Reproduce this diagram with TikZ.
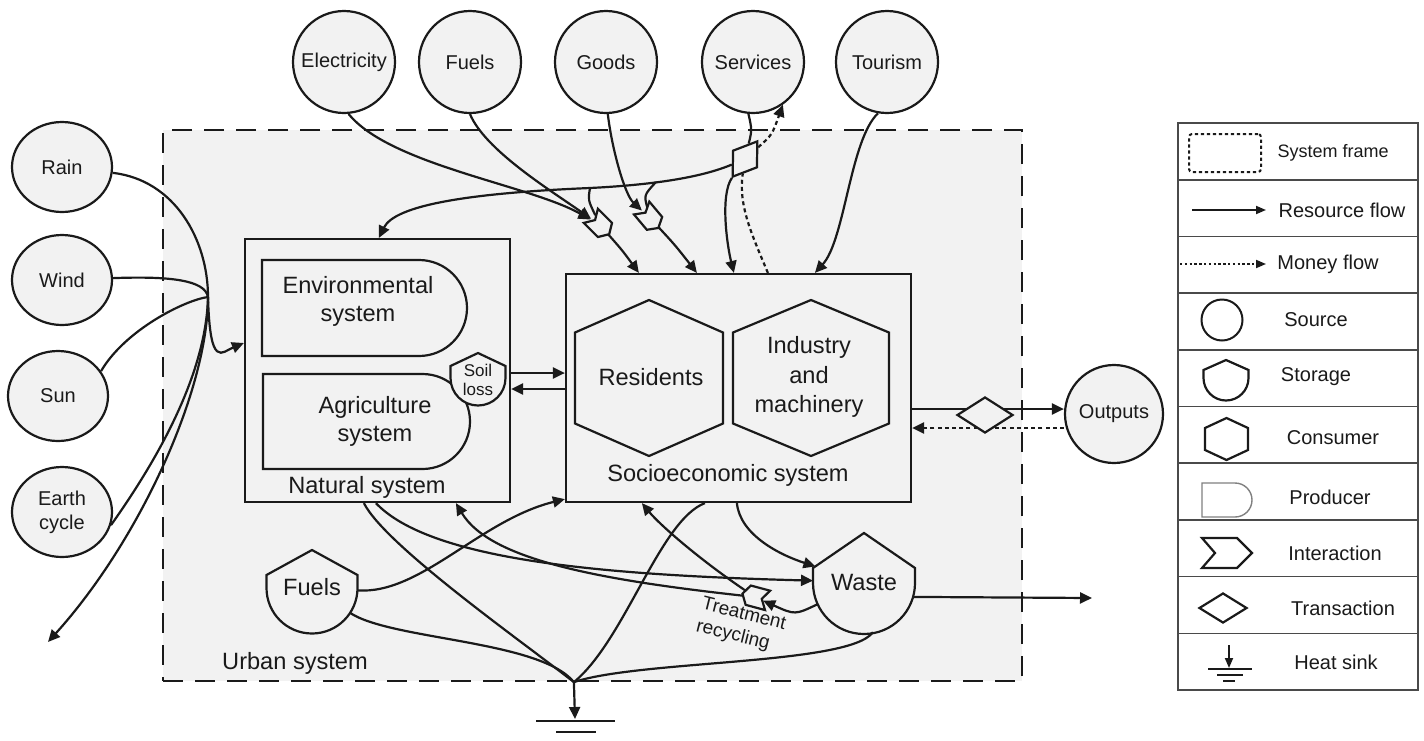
\documentclass[tikz,border=0pt]{standalone}
\usepackage{fontspec}
\setmainfont{Liberation Sans}
\usetikzlibrary{arrows.meta,shapes.geometric,fit}
\definecolor{bg}{HTML}{F2F2F2}
\definecolor{ink}{HTML}{1A1A1A}
\definecolor{rule}{HTML}{4A4A4A}
\pgfdeclarelayer{fg}
\pgfsetlayers{main,fg}
\newcommand\lblfont{\fontsize{11.8}{14}\selectfont}
\newcommand\srcfont{\fontsize{10}{12}\selectfont}
\newcommand\storageshape[5]{\draw[shapeline] (#1,#2) -- (#1+#5,#3) -- (#1+#5,#4) arc[start angle=0,end angle=-180,radius=#5*0.5pt] -- (#1-#5,#3) -- cycle;}
\newcommand\hexshape[5]{\draw[shapeline] (#1,#2-#4) -- (#1+#3,#2-#5) -- (#1+#3,#2+#5) -- (#1,#2+#4) -- (#1-#3,#2+#5) -- (#1-#3,#2-#5) -- cycle;}
\newcommand\prodshape[5]{\draw[shapeline] (#1,#2) -- (#3,#2) arc[start angle=90,end angle=-90,radius=#5*0.5pt] -- (#1,#4) -- cycle;}
\tikzset{
  shapeline/.style={line width=1.1pt,draw=ink,fill=bg,line join=miter},
  plain/.style={line width=1.1pt,draw=ink},
  flow/.style={plain,-{Triangle[length=6pt,width=5.5pt]}},
  moneyline/.style={plain,dash pattern=on 2pt off 1.6pt},
  money/.style={flow,dash pattern=on 2pt off 1.6pt},
  src/.style={circle,draw=ink,line width=1.1pt,fill=bg,minimum size=51pt,inner sep=0,font=\srcfont,text=ink,align=center},
  srcl/.style={ellipse,draw=ink,line width=1.1pt,fill=bg,minimum width=50pt,minimum height=45pt,inner sep=0,font=\srcfont,text=ink,align=center},
  lbl/.style={font=\lblfont,text=ink,align=center,inner sep=0},
  box/.style={draw=ink,line width=1.1pt,fill=bg,inner sep=0},
  ghost/.style={inner sep=0,outer sep=0,text=ink,align=center},
  urbanframe/.style={draw=ink,line width=1.1pt,dash pattern=on 10pt off 6pt,fill=bg,inner sep=0},
  dia/.style={diamond,draw=ink,line width=1.1pt,fill=bg,inner sep=0},
  lgtext/.style={font=\srcfont,text=ink,inner sep=0},
  lgflow/.style={line width=0.9pt,draw=ink,-{Triangle[length=5pt,width=4pt]}},
  chev/.pic={\draw[shapeline] (-13,-10) -- (7,-10) -- (13,0) -- (7,10) -- (-13,10) -- (-7,0) -- cycle;}
}
\begin{document}
\begin{tikzpicture}[x=0.5pt,y=-0.5pt]
\fill[white] (0,0) rectangle (1424,740);
\useasboundingbox (0,0) rectangle (1424,740);

% ---------- urban frame ----------
\node[urbanframe, fit={(163,130) (1022,681)}] (urban) {};
\node[lbl] (urbanlbl) at (295,663) {Urban system};

% ---------- sources ----------
\node[srcl] (rain) at (62,167) {Rain};
\node[srcl] (wind) at (62,280) {Wind};
\node[srcl] (sun) at (58,396) {Sun};
\node[srcl] (earth) at (62,512) {Earth\\cycle};
\node[src] (elec) at (344,62) {Electricity};
\node[src] (fuelsrc) at (470,62) {Fuels};
\node[src] (goods) at (606,62) {Goods};
\node[src] (serv) at (753,62) {Services};
\node[src] (tour) at (887,62) {Tourism};
\node[src, minimum size=49pt] (outp) at (1114,414) {Outputs};

% ---------- natural system ----------
\node[box, fit={(245,239) (510,502)}] (nat) {};
\prodshape{262}{260}{419}{356}{48}
\node[lbl] (env) at (358,301) {Environmental\\system};
\prodshape{263}{374}{422.5}{469}{47.5}
\node[lbl] (agr) at (375,421) {Agriculture\\system};
\storageshape{478}{353}{366}{378}{27.5}
\node[ghost, circle, minimum size=27.5pt, font=\fontsize{8.5}{9.5}\selectfont] (soil) at (478,380) {Soil\\loss};
\node[lbl] (natlbl) at (367,487) {Natural system};

% ---------- socioeconomic system ----------
\node[box, fit={(566,274) (911,502)}] (socio) {};
\hexshape{649}{378}{74}{78}{45.5}
\node[lbl] (res) at (651,377) {Residents};
\hexshape{811}{378}{78}{78}{45.5}
\node[lbl, font=\fontsize{11.8}{14.75}\selectfont] (ind) at (809,377) {Industry\\and\\machinery};
\node[lbl] (soclbl) at (728,475) {Socioeconomic system};

% ---------- storages ----------
\storageshape{864}{533}{568}{583}{51}
\node[ghost, circle, minimum size=51pt, font=\lblfont] (waste) at (864,582) {Waste};
\storageshape{312}{550}{575}{588}{45.5}
\node[ghost, circle, minimum size=45.5pt, font=\lblfont] (fuelst) at (312,587) {Fuels};

% ---------- transactions and interactions (drawn on top) ----------
\begin{pgfonlayer}{fg}
\node[dia, minimum width=22pt, minimum height=15pt, rotate=55] (tdia) at (745,159) {};
\node[dia, minimum width=28pt, minimum height=18pt] (odia) at (985,415) {};
\pic[rotate=-45] at (600,225) {chev};
\pic[rotate=-50] at (650,218) {chev};
\pic[rotate=165] at (755,597) {chev};
\end{pgfonlayer}
\node[ghost, circle, minimum size=11pt] (int1) at (600,225) {};
\node[ghost, circle, minimum size=11pt] (int2) at (650,218) {};
\node[ghost, circle, minimum size=9pt] (treat) at (755,597) {};
\node[ghost, font=\fontsize{9.5}{11.5}\selectfont, rotate=-14, align=left] (treatlbl) at (741,626) {Treatment\\recycling};

% ---------- helper coordinates ----------
\coordinate (J) at (208,297);
\coordinate (runoff) at (48,642);
\coordinate (G) at ([xshift=206pt]urban.south west);
\coordinate (gnd) at (575,719);
\coordinate (wout) at (1092,598);
\coordinate (b1) at (590,188);
\coordinate (b2) at (656,182);

% ---------- natural inputs ----------
\draw[plain] (rain) .. controls (175,180) and (208,240) .. (J);
\draw[plain] (wind) .. controls (170,276) and (205,280) .. (J);
\draw[plain] (sun.30) .. controls (125,330) and (185,300) .. (J);
\draw[plain] (earth.-15) .. controls (150,470) and (206,380) .. (J);
\draw[flow] (J) .. controls (208,390) and (140,540) .. (runoff);
\draw[flow] (J) .. controls (210,370) and (222,352) .. ([yshift=13.75pt]nat.west);

% ---------- purchased inputs ----------
\draw[flow] (elec.-85) .. controls (390,165) and (530,185) .. (int1);
\draw[flow] (fuelsrc.-90) .. controls (485,150) and (550,190) .. (int1);
\draw[flow] (goods.-88) .. controls (612,150) and (625,195) .. (int2);
\draw[flow] (int1) .. controls (622,250) .. ([xshift=37pt]socio.north west);
\draw[flow] (int2) .. controls (675,245) .. ([xshift=66pt]socio.north west);
\draw[plain] (serv.-95) .. controls (752,130) .. (tdia);
\draw[flow] (tdia) .. controls (720,195) and (727,245) .. ([xshift=84.5pt]socio.north west);
\draw[flow] (tdia) .. controls (700,178) and (650,185) .. (b1) .. controls (470,193) and (395,205) .. ([xshift=67.5pt]nat.north west);
\draw[plain] (b1) .. controls (588,200) .. (int1);
\draw[plain] (b2) .. controls (644,195) .. (int2);
\draw[moneyline] ([xshift=101.5pt]socio.north west) .. controls (752,235) and (738,205) .. (tdia);
\draw[money] (tdia) .. controls (772,135) .. (serv.-55);
\draw[flow] (tour.-100) .. controls (850,140) and (845,240) .. ([xshift=125pt]socio.north west);

% ---------- exchanges ----------
\draw[flow] ([yshift=-1.25pt]nat.east) -- ([yshift=-1.25pt]nat.east -| socio.west);
\draw[flow] ([yshift=-9.25pt]nat.east -| socio.west) -- ([yshift=-9.25pt]nat.east);
\draw[flow] ([yshift=-10.5pt]socio.east) -- ([yshift=-10.5pt]socio.east -| outp.west);
\draw[money] ([yshift=-20pt]socio.east -| outp.west) -- ([yshift=-20pt]socio.east);

% ---------- lower flows ----------
\draw[plain] ([xshift=60pt]nat.south west) .. controls (385,545) and (520,640) .. (G);
\draw[flow] ([xshift=66pt]nat.south west) .. controls (430,560) and (600,575) .. (waste);
\draw[flow] ([xshift=86pt]socio.south west) .. controls (740,535) and (780,555) .. (waste);
\draw[flow] (fuelst) .. controls (420,595) and (480,520) .. ([yshift=2pt]socio.south west);
\draw[plain] (fuelst) .. controls (390,640) and (540,640) .. (G);
\draw[flow] (treat) .. controls (600,580) and (490,560) .. ([xshift=106pt]nat.south west);
\draw[flow] (treat) .. controls (700,560) and (660,525) .. ([xshift=38.5pt]socio.south west);
\draw[flow] (waste) .. controls (795,615) .. (treat);
\draw[plain] ([xshift=70pt]socio.south west) .. controls (660,520) and (625,640) .. (G);
\draw[plain] (waste.-80) .. controls (850,665) and (640,660) .. (G);
\draw[flow] (waste.-17) -- (wout);
\draw[flow] (G) -- (gnd);
\draw[plain] (536,721) -- (615,721);
\draw[plain] (556,732) -- (596,732);

% ---------- legend ----------
\node[draw=rule, line width=0.8pt, inner sep=0, fit={(1178,123) (1418,690)}] (legend) {};
\foreach \i in {1,...,9} \draw[rule, line width=0.8pt] (1178,123+56.7*\i) -- (1418,123+56.7*\i);
\node[draw=ink, line width=1pt, dash pattern=on 1.6pt off 1.4pt, rounded corners=1.5pt, minimum width=36pt, minimum height=19pt, inner sep=0] (lgframe) at (1225,153) {};
\node[lgtext, font=\fontsize{9}{11}\selectfont] (lt1) at (1333,153) {System frame};
\coordinate (lgr1) at (1192,210);
\coordinate (lgr2) at (1266,210);
\draw[lgflow] (lgr1) -- (lgr2);
\node[lgtext] (lt2) at (1342,210) {Resource flow};
\coordinate (lgm1) at (1180,264);
\coordinate (lgm2) at (1266,264);
\draw[lgflow, dash pattern=on 1.2pt off 1.2pt] (lgm1) -- (lgm2);
\node[lgtext] (lt3) at (1328,264) {Money flow};
\node[circle, draw=ink, line width=1pt, minimum size=20.5pt, inner sep=0] (lgsrc) at (1222,320) {};
\node[lgtext] (lt4) at (1316,320) {Source};
\begin{scope}[shapeline/.append style={fill=white}]
\storageshape{1226}{360}{370}{378}{22.5}
\hexshape{1226.5}{439}{21.5}{21}{11}
\end{scope}
\node[lgtext] (lt5) at (1316,377) {Storage};
\node[lgtext] (lt6) at (1333,438) {Consumer};
\begin{scope}[shapeline/.append style={fill=white,draw=gray,line width=0.7pt}]
\prodshape{1202}{483}{1235}{517}{17}
\end{scope}
\node[lgtext] (lt7) at (1330,497) {Producer};
\draw[shapeline, fill=white] (1202,538) -- (1237,538) -- (1252,553) -- (1237,568) -- (1202,568) -- (1215,553) -- cycle;
\node[lgtext] (lt8) at (1335,553) {Interaction};
\node[dia, fill=white, minimum width=24pt, minimum height=15pt] (lgdia) at (1223,608) {};
\node[lgtext] (lt9) at (1343,608) {Transaction};
\coordinate (lgh1) at (1229,645);
\coordinate (lgh2) at (1229,668);
\draw[lgflow] (lgh1) -- (lgh2);
\draw[ink, line width=1pt] (1208,669) -- (1252,669) (1217,675) -- (1243,675) (1223,681) -- (1235,681);
\node[lgtext] (lt10) at (1336,662) {Heat sink};
\end{tikzpicture}
\end{document}
